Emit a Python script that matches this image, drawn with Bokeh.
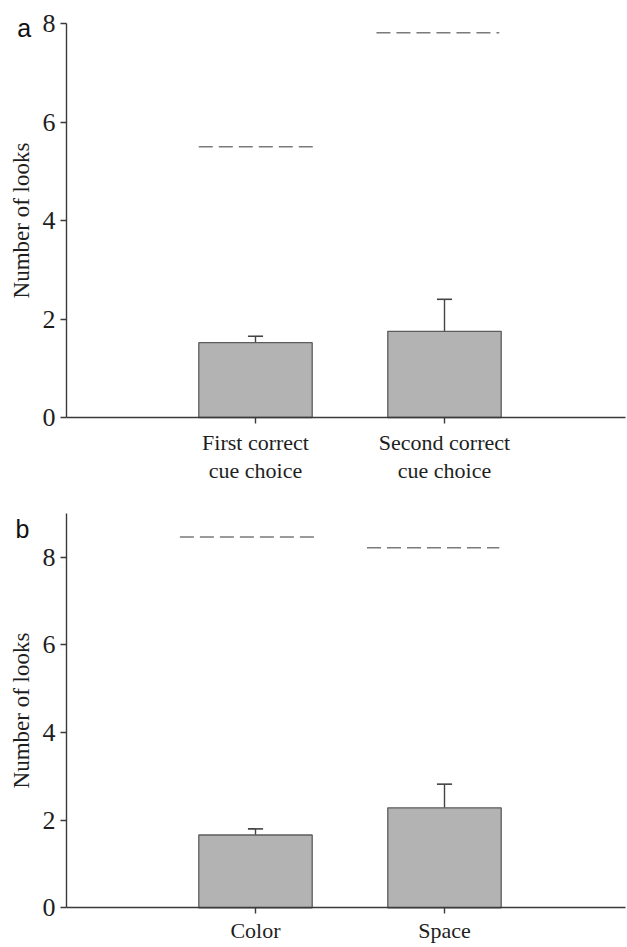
from bokeh.plotting import figure
from bokeh.layouts import column
from bokeh.models import Range1d, FixedTicker, Label
from bokeh.embed import file_html
from bokeh.resources import INLINE

# ---------------- data ----------------
a_categories = ["First correct\ncue choice", "Second correct\ncue choice"]
a_means = [1.52, 1.75]
a_errors = [0.13, 0.65]
a_chance = [5.50, 7.81]

b_categories = ["Color", "Space"]
b_means = [1.66, 2.28]
b_errors = [0.14, 0.54]
b_chance = [8.46, 8.21]

y_ticks = [0, 2, 4, 6, 8]

SERIF = "Liberation Serif"
SANS = "Liberation Sans"

WIDTH = 627
X_PX_PER_UNIT = 189.0
X_ORIGIN_PX = 66.0                      # where x = 0 (the y axis) sits
X_START = -X_ORIGIN_PX / X_PX_PER_UNIT
X_END = (WIDTH - X_ORIGIN_PX) / X_PX_PER_UNIT
X_AXIS_END = 2.958


def make_panel(letter, cats, means, errs, chance, ymax, height, y0_px, axis_len_px,
               chance_lo, chance_hi, letter_xy, label_standoff):
    xs = [i + 1 for i in range(len(cats))]
    ppu = axis_len_px / ymax
    y_top = y0_px / ppu
    y_bot = -(height - y0_px) / ppu
    p = figure(width=WIDTH, height=height, x_range=Range1d(X_START, X_END),
               y_range=Range1d(y_bot, y_top), output_backend="svg",
               toolbar_location=None, min_border=0, min_border_left=0,
               min_border_right=0, min_border_top=0, min_border_bottom=0)
    p.xgrid.visible = False
    p.ygrid.visible = False
    p.outline_line_color = None
    p.background_fill_color = "white"
    p.border_fill_color = "white"

    # chance lines
    p.segment(x0=[x + lo for x, lo in zip(xs, chance_lo)], y0=chance,
              x1=[x + hi for x, hi in zip(xs, chance_hi)], y1=chance,
              line_color="#7a7a7a", line_width=1.5, line_dash="14 6")

    tops = [m + e for m, e in zip(means, errs)]
    # error bars (upper)
    p.segment(x0=xs, y0=means, x1=xs, y1=tops, line_color="#444444", line_width=1.4)
    p.segment(x0=[x - 0.04 for x in xs], y0=tops, x1=[x + 0.04 for x in xs], y1=tops,
              line_color="#444444", line_width=1.6)
    # bars
    p.vbar(x=xs, top=means, bottom=0, width=0.6, fill_color="#b3b3b3",
           line_color="#5c5c5c", line_width=1.3)

    for ax in (p.xaxis[0], p.yaxis[0]):
        ax.fixed_location = 0
        ax.axis_line_color = "#3a3a3a"
        ax.axis_line_width = 1.4
        ax.major_tick_line_color = "#3a3a3a"
        ax.major_tick_line_width = 1.4
        ax.major_tick_in = 0
        ax.major_tick_out = 6
        ax.minor_tick_line_color = None
        ax.major_label_text_font = SERIF
        ax.major_label_text_color = "#1e1e1e"

    p.xaxis.ticker = FixedTicker(ticks=xs)
    p.xaxis.bounds = (0, X_AXIS_END)
    p.xaxis.major_label_overrides = {x: c for x, c in zip(xs, cats)}
    p.xaxis.major_label_text_font_size = "22px"
    p.xaxis.major_label_text_line_height = 1.15
    p.xaxis.major_label_standoff = label_standoff

    p.yaxis.ticker = FixedTicker(ticks=y_ticks)
    p.yaxis.bounds = (0, ymax)
    p.yaxis.major_label_text_font_size = "26px"
    p.yaxis.major_label_standoff = 5
    p.yaxis.axis_label = "Number of looks"
    p.yaxis.axis_label_text_font = SERIF
    p.yaxis.axis_label_text_font_size = "23px"
    p.yaxis.axis_label_text_font_style = "normal"
    p.yaxis.axis_label_text_color = "#1e1e1e"
    p.yaxis.axis_label_standoff = 6

    p.add_layout(Label(x=letter_xy[0], y=letter_xy[1],
                       text=letter, text_font=SANS, text_font_size="25px",
                       text_color="#111111", text_baseline="alphabetic"))
    return p


pa = make_panel("a", a_categories, a_means, a_errors, a_chance, 8, 495, 417.0, 394.0,
                [-0.30, -0.36], [0.32, 0.29], (-0.26, 7.90), 6)
pb = make_panel("b", b_categories, b_means, b_errors, b_chance, 9, 452, 412.3, 394.6,
                [-0.40, -0.41], [0.31, 0.29], (-0.27, 8.63), 4)

layout = column(pa, pb)
open("out.html", "w").write(file_html(layout, INLINE))
